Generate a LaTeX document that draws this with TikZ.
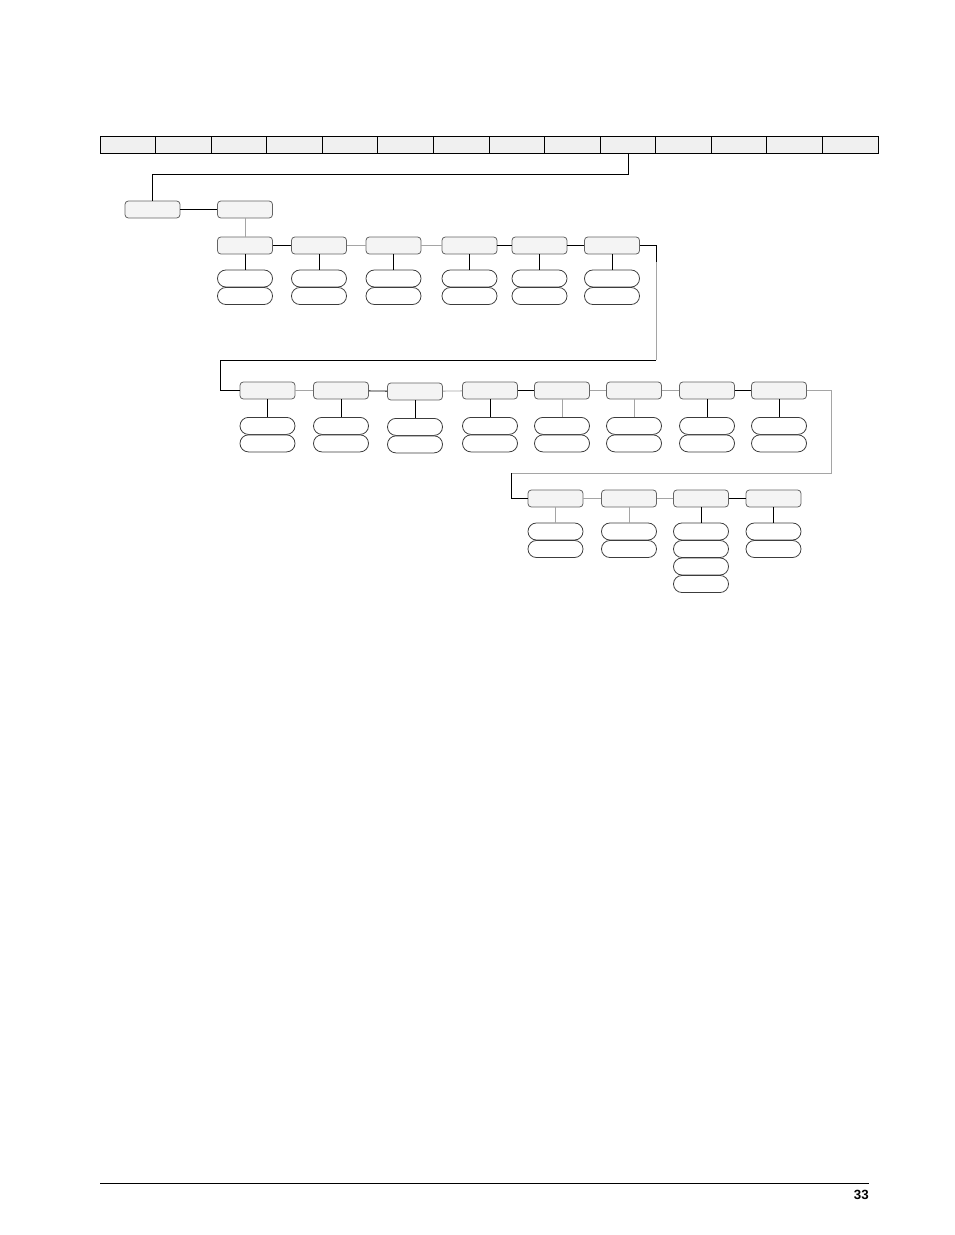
\documentclass[tikz,border=0pt]{standalone}
\usepackage{fontspec}
\setmainfont{Liberation Sans}
\usetikzlibrary{calc}

\begin{document}
\begin{tikzpicture}[x=0.75pt,y=0.75pt,yscale=-1,xscale=1,
  cell/.style={draw=black,line width=0.6pt,fill={rgb,255:red,240;green,240;blue,240},minimum width=41.7pt,minimum height=12.75pt,inner sep=0pt},
  menu/.style={draw={rgb,255:red,100;green,100;blue,100},fill={rgb,255:red,244;green,244;blue,244},rounded corners=2.5pt,minimum width=41.25pt,minimum height=12.75pt,inner sep=0pt,line width=0.6pt},
  opt/.style={draw={rgb,255:red,60;green,60;blue,60},fill=white,rounded corners=6.3pt,minimum width=41.25pt,minimum height=12.75pt,inner sep=0pt,line width=0.6pt},
  link/.style={draw=black,line width=0.6pt},
  faint/.style={draw={rgb,255:red,165;green,165;blue,165},line width=0.6pt}]
  \useasboundingbox (0,0) rectangle (954,1235);

  %Shape: Menu bar
  \foreach \i in {1,...,14} \node [cell] (c\i) at ({100+55.57*(\i-0.5)},144.5) {};

  %Shape: Level 1
  \node [menu] (a) at (152.5,209.5) {};
  \node [menu] (b) at (245,209.5) {};
  \draw [link] (c10.south) -- ++(0,21) -| (a.north);
  \draw [link] (a) -- (b);

  %Shape: Row 1
  \node [menu] (r1n1) at (245,245.5) {};
  \node [menu] (r1n2) at (319,245.5) {};
  \node [menu] (r1n3) at (393.5,245.5) {};
  \node [menu] (r1n4) at (469.5,245.5) {};
  \node [menu] (r1n5) at (539.5,245.5) {};
  \node [menu] (r1n6) at (612,245.5) {};
  \foreach \n in {1,...,6} {
    \node [opt] (r1o\n a) at ($(r1n\n)+(0,33)$) {};
    \node [opt] (r1o\n b) at ($(r1n\n)+(0,50.5)$) {};
    \draw [link] (r1n\n) -- (r1o\n a);
  }
  \draw [faint] (b) -- (r1n1);
  \draw [link] (r1n1) -- (r1n2);
  \draw [faint] (r1n2) -- (r1n3);
  \draw [faint] (r1n3) -- (r1n4);
  \draw [link] (r1n4) -- (r1n5);
  \draw [link] (r1n5) -- (r1n6);

  %Shape: Row 2
  \node [menu] (r2n1) at (267.5,390.5) {};
  \node [menu] (r2n2) at (341,390.5) {};
  \node [menu] (r2n3) at (415,391.5) {};
  \node [menu] (r2n4) at (490,390.5) {};
  \node [menu] (r2n5) at (562,390.5) {};
  \node [menu] (r2n6) at (634,390.5) {};
  \node [menu] (r2n7) at (707,390.5) {};
  \node [menu] (r2n8) at (779,390.5) {};
  \foreach \n in {1,...,8} {
    \node [opt] (r2o\n a) at ($(r2n\n.south)+(0,26.5)$) {};
    \node [opt] (r2o\n b) at ($(r2n\n.south)+(0,44)$) {};
  }
  \foreach \n in {1,2,3,4,7,8} \draw [link] (r2n\n) -- (r2o\n a);
  \foreach \n in {5,6} \draw [faint] (r2n\n) -- (r2o\n a);
  \coordinate (t1) at (656,360);
  \coordinate (t2) at (220,360);
  \coordinate (t0) at (656,262);
  \draw [link] (r1n6.east) -| (t0);
  \draw [faint] (t0) -- (t1);
  \draw [link] (t1) -- (t2) |- (r2n1.west);
  \draw [faint] (r2n1) -- (r2n2);
  \draw [link] (r2n2) -- (r2n3);
  \draw [faint] (r2n3) -- (r2n4);
  \draw [link] (r2n4) -- (r2n5);
  \draw [faint] (r2n5) -- (r2n6);
  \draw [faint] (r2n6) -- (r2n7);
  \draw [link] (r2n7) -- (r2n8);

  %Shape: Row 3
  \node [menu] (r3n1) at (555.5,498.5) {};
  \node [menu] (r3n2) at (629,498.5) {};
  \node [menu] (r3n3) at (701,498.5) {};
  \node [menu] (r3n4) at (773.5,498.5) {};
  \foreach \n in {1,...,4} {
    \node [opt] (r3o\n a) at ($(r3n\n)+(0,33)$) {};
    \node [opt] (r3o\n b) at ($(r3n\n)+(0,50.5)$) {};
  }
  \node [opt] (r3o3c) at ($(r3n3)+(0,68)$) {};
  \node [opt] (r3o3d) at ($(r3n3)+(0,85.5)$) {};
  \draw [faint] (r3n1) -- (r3o1a);
  \draw [faint] (r3n2) -- (r3o2a);
  \draw [link] (r3n3) -- (r3o3a);
  \draw [link] (r3n4) -- (r3o4a);
  \coordinate (t3) at (831,473);
  \coordinate (t4) at (511,473);
  \draw [faint] (r2n8.east) -| (t3) -- (t4);
  \draw [link] (t4) |- (r3n1.west);
  \draw [faint] (r3n1) -- (r3n2);
  \draw [faint] (r3n2) -- (r3n3);
  \draw [link] (r3n3) -- (r3n4);

  % Footer
  \coordinate (f1) at (100,1183);
  \coordinate (f2) at (869,1183);
  \draw [line width=0.7pt] (f1) -- (f2);
  % Text Node
  \node [anchor=north east,inner sep=0pt,font=\fontsize{10}{12}\selectfont\bfseries] (pg) at (869,1190) {33};
\end{tikzpicture}
\end{document}
